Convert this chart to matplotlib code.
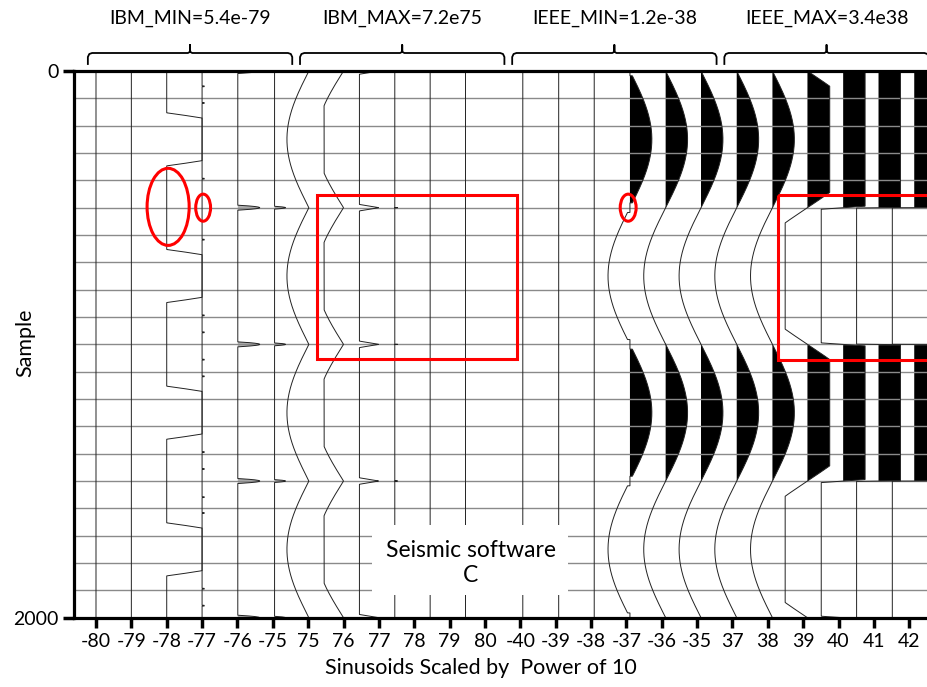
import numpy as np
import matplotlib
matplotlib.use("Agg")
import matplotlib.pyplot as plt
import matplotlib.transforms as mtransforms
from matplotlib.patches import Ellipse, Rectangle

plt.rcParams['font.family'] = ['Lato', 'DejaVu Sans']

# ---------------- data ----------------
tick_labels = ['-80', '-79', '-78', '-77', '-76', '-75',
               '75', '76', '77', '78', '79', '80',
               '-40', '-39', '-38', '-37', '-36', '-35',
               '37', '38', '39', '40', '41', '42']
group_labels = ['IBM_MIN=5.4e-79', 'IBM_MAX=7.2e75', 'IEEE_MIN=1.2e-38', 'IEEE_MAX=3.4e38']
period = 1000          # samples per sinusoid cycle
n_samples = 2000
samples = np.arange(0.25, n_samples + 0.5, 0.5)

# how each trace is rendered by the software
trace_kind = ['flat', 'flat', 'step', 'dots', 'spike', 'spike',
              'abs', 'abs', 'abs', 'abs', 'abs', 'abs',
              'sine', 'sine', 'sine', 'sine', 'sine', 'sine',
              'sine', 'sine', 'sine', 'sine', 'sine', 'sine']
display_amp = [0, 0, 1.0, 0.06, 0.62, 0.31,
               0.62, 0.77, 7.4, 300, 3000, 30000,
               0, 0, 0, 0.62, 0.62, 0.62,
               0.62, 0.62, 1.84, 18.4, 184, 1840]
display_clip = [0, 0, 0, 0, 0, 0,
                9, 0.55, 0.55, 0.55, 0.55, 0.55,
                9, 9, 9, 9, 9, 9,
                9, 9, 0.63, 0.62, 0.62, 0.62]
underflow_gate = [0, 0, 0, 0, 0, 0,
                  0, 0, 0, 0, 0, 0,
                  0, 0, 0, 0.11, 0.012, 0.001,
                  0, 0, 0, 0, 0, 0]
baseline_offset = [0, 0, 0, 0, 0.01, 0.05,
                   0.02, 0, 0, 0, 0, 0,
                   0.07, 0.085, 0.09, 0.1, 0.11, 0.11,
                   0.12, 0.13, 0.12, 0.13, 0.13, 0.14]
spike_halfwidth = [0, 0, 0, 0, 9, 5] + [0] * 18
step_threshold = 0.82
step_gain = 16
dot_samples = [56, 117, 394, 617, 894, 956,
               1056, 1117, 1394, 1456, 1559, 1617, 1894, 1956]

# annotations (red) : centre x (trace units), centre sample, width, height
red_ellipses = [(2.04, 497, 1.19, 282), (3.03, 500, 0.42, 99), (15.05, 500, 0.45, 99)]
# rectangles : left x, top sample, width, height
red_rects = [(6.25, 453, 5.65, 600), (19.29, 453, 5.6, 604)]

# ---------------- figure ----------------
W, H = 927, 687
fig = plt.figure(figsize=(W / 100, H / 100), dpi=100)
ax_left, ax_right, ax_top, ax_bot = 74, 945, 71, 617.7
ax = fig.add_axes([ax_left / W, (H - ax_bot) / H, (ax_right - ax_left) / W, (ax_bot - ax_top) / H])
ax.set_xlim(-0.622, 24.01)
ax.set_ylim(n_samples, 0)

t = samples
s = np.sin(2 * np.pi * t / period)
for i in range(len(tick_labels)):
    base = i + baseline_offset[i]
    kind = trace_kind[i]
    A = display_amp[i]
    C = display_clip[i]
    if kind == 'flat':
        d = np.zeros_like(t)
    elif kind == 'step':
        d = A * np.clip((np.abs(s) - step_threshold) * step_gain, 0, 1)
    elif kind == 'dots':
        dist = np.min(np.abs(t[:, None] - np.array(dot_samples)[None, :]), axis=1)
        d = A * (dist < 1.5)
    elif kind == 'spike':
        dz = t - np.round(t / (period / 2)) * (period / 2)
        d = A * np.clip(1 - (dz / spike_halfwidth[i]) ** 2, 0, None)
    elif kind == 'abs':
        d = -np.minimum(A * np.abs(s), C)
    else:
        d = np.clip(A * s * (np.abs(s) >= underflow_gate[i]), -C, C)
    x = base + d
    if kind == 'sine':
        ax.fill_betweenx(t, base, x, where=x > base, interpolate=True,
                         color='black', lw=0, zorder=2)
    if kind == 'spike':
        ax.fill_betweenx(t, base, x, where=x > base, color='#b0b0b0', lw=0, zorder=2)
    ax.plot(x, t, color='#222222', lw=0.7, zorder=4)

# horizontal grid
ax.hlines(np.arange(100, n_samples, 100), -1, 30, color='#8a8a8a', lw=1.0, zorder=3)

# ticks / spines
ax.set_xticks(range(len(tick_labels)))
ax.set_xticklabels(tick_labels)
ax.set_yticks([0, n_samples])
ax.set_yticklabels(['0', '2000'])
ax.tick_params(axis='x', length=7, width=2.5, labelsize=14, pad=4)
ax.tick_params(axis='y', length=8, width=2.5, labelsize=14, pad=3)
for side in ['left', 'top', 'bottom']:
    ax.spines[side].set_linewidth(2.3)
    ax.spines[side].set_zorder(6)
ax.spines['right'].set_visible(False)

# red annotations
for (cx, cy, w, h) in red_ellipses:
    ax.add_patch(Ellipse((cx, cy), w, h, fill=False, ec='#ff0000', lw=2.2, zorder=7))
for (x0, y0, w, h) in red_rects:
    ax.add_patch(Rectangle((x0, y0), w, h, fill=False, ec='#ff0000', lw=2.2, zorder=7, clip_on=False))

# label box
ax.add_patch(Rectangle((7.8, 1661), 5.55, 256, fc='white', ec='none', zorder=5))
ax.text(10.6, 1800, 'Seismic software\nC', ha='center', va='center', fontsize=16.5,
        linespacing=1.2, zorder=6)

# axis labels
fig.text(25 / W, 1 - 343 / H, 'Sample', rotation=90, ha='center', va='center', fontsize=15.5)
fig.text(481 / W, 1 - 668 / H, 'Sinusoids Scaled by  Power of 10', ha='center', va='center', fontsize=15.5)

# group braces and labels
blend = mtransforms.blended_transform_factory(ax.transData, fig.transFigure)
def fy(px):
    return 1 - px / H
for g, lab in enumerate(group_labels):
    x0 = 6 * g - 0.23
    x1 = 6 * g + 5.55
    xc = (x0 + x1) / 2
    bx = [x0, x0, x0 + 0.04, x0 + 0.12, xc - 0.06, xc - 0.01, xc, xc, xc, xc + 0.01, xc + 0.06,
          x1 - 0.12, x1 - 0.04, x1, x1]
    by = [64, 57, 54, 53, 53, 52, 50, 45, 50, 52, 53, 53, 54, 57, 64]
    ax.plot(bx, [fy(v) for v in by], transform=blend, color='black', lw=1.3, clip_on=False)
    ax.text(xc, fy(18), lab, transform=blend, ha='center', va='center', fontsize=14, clip_on=False)

fig.savefig('out.png', dpi=100)
